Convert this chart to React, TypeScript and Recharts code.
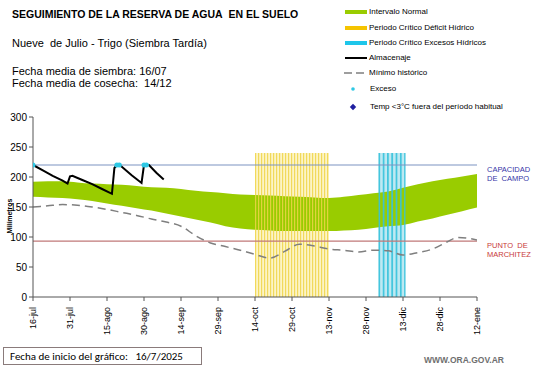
import React from "react";
import {
  ComposedChart,
  Area,
  Line,
  XAxis,
  YAxis,
  ReferenceLine,
} from "recharts";

// días desde el 16-jul
const tickDays = [0, 15, 30, 45, 60, 75, 90, 105, 120, 135, 150, 165, 180];
const tickLabels = [
  "16-jul", "31-jul", "15-ago", "30-ago", "14-sep", "29-sep", "14-oct",
  "29-oct", "13-nov", "28-nov", "13-dic", "28-dic", "12-ene",
];

// intervalo normal (banda verde)
const normalDays = [0, 6, 12, 18, 24, 30, 36, 42, 48, 54, 60, 66, 72, 78, 84, 90, 96, 102, 108, 114, 120, 126, 132, 138, 144, 150, 156, 162, 168, 174, 180];
const normalHigh = [192, 193, 193, 191, 189, 188, 187, 185, 183, 182, 180, 177, 175, 173, 171, 170, 169, 168, 167, 166, 165, 167, 170, 173, 176, 182, 188, 193, 197, 201, 205];
const normalLow = [167, 166, 165, 163, 160, 156, 152, 148, 144, 139, 134, 129, 124, 118, 114, 112, 111, 110, 110, 110, 110, 111, 112, 115, 118, 120, 126, 131, 137, 143, 149];

// mínimo histórico
const minDays = [0, 6, 12, 18, 24, 30, 36, 42, 48, 54, 60, 66, 72, 78, 84, 90, 96, 102, 108, 114, 120, 126, 132, 138, 144, 150, 156, 162, 168, 172, 176, 180];
const minValues = [150, 152, 154, 153, 150, 146, 141, 136, 130, 125, 118, 102, 90, 84, 78, 71, 65, 76, 88, 85, 80, 78, 75, 78, 77, 70, 74, 80, 92, 99, 98, 95];

// almacenaje
const storageDays = [0, 4, 8, 12, 14, 15, 16, 20, 24, 28, 32, 33, 34, 35, 36, 40, 44, 45, 46, 47, 50, 53];
const storageValues = [220, 211, 202, 194, 189, 201, 202, 195, 188, 180, 172, 215, 220, 220, 217, 203, 190, 220, 220, 220, 207, 196];

// exceso
const excessDays = [0, 34, 35, 45, 46];
const excessValues = [220, 220, 220, 220, 220];

// periodos críticos
const deficitDays = [90, 120];
const excessPeriodDays = [140, 151];
const bandTop = 240;

const fieldCapacity = 220;
const wiltingPoint = 93;

const normalData = normalDays.map((d, i) => ({ day: d, band: [normalLow[i], normalHigh[i]] }));
const minData = minDays.map((d, i) => ({ day: d, v: minValues[i] }));
const storageData = storageDays.map((d, i) => ({ day: d, v: storageValues[i] }));
const excessData = excessDays.map((d, i) => ({ day: d, v: excessValues[i] }));
const deficitData = deficitDays.map((d) => ({ day: d, v: bandTop }));
const excessBandData = excessPeriodDays.map((d) => ({ day: d, v: bandTop }));

const XTick = (props: any) => {
  const { x, y, payload } = props;
  const label = tickLabels[tickDays.indexOf(payload.value)];
  return (
    <text
      x={x}
      y={y + 4}
      dy={3}
      transform={`rotate(-90 ${x} ${y + 4})`}
      textAnchor="end"
      fontSize={9}
      fill="#000"
      fontFamily="Liberation Sans, Arial, sans-serif"
    >
      {label}
    </text>
  );
};

const abs = (left: number, top: number, extra: React.CSSProperties = {}): React.CSSProperties => ({
  position: "absolute",
  left,
  top,
  whiteSpace: "nowrap",
  ...extra,
});

const legendText: React.CSSProperties = { fontSize: 8, color: "#000", lineHeight: "10px" };

export default function App() {
  return (
    <div
      style={{
        position: "absolute",
        left: 0,
        top: 0,
        width: 541,
        height: 368,
        background: "#fff",
        fontFamily: "Liberation Sans, Arial, sans-serif",
        overflow: "hidden",
      }}
    >
      <svg width={0} height={0} style={{ position: "absolute" }}>
        <defs>
          <pattern id="yellowStripes" width={3} height={10} patternUnits="userSpaceOnUse">
            <rect x={0} y={0} width={1.2} height={10} fill="#efd548" fillOpacity={0.85} />
          </pattern>
          <pattern id="cyanStripes" width={4.3} height={10} patternUnits="userSpaceOnUse">
            <rect x={0} y={0} width={1.8} height={10} fill="#36c2dc" fillOpacity={0.9} />
          </pattern>
        </defs>
      </svg>

      <ComposedChart
        width={541}
        height={368}
        margin={{ top: 117, right: 64, bottom: 31, left: 8 }}
        style={{ position: "absolute", left: 0, top: 0 }}
      >
        <XAxis
          type="number"
          dataKey="day"
          domain={[0, 180]}
          ticks={tickDays}
          interval={0}
          tick={<XTick />}
          height={40}
          stroke="#555"
          tickSize={4}
          allowDataOverflow
        />
        <YAxis
          type="number"
          domain={[0, 300]}
          ticks={[0, 50, 100, 150, 200, 250, 300]}
          width={25}
          stroke="#555"
          tickSize={4}
          tick={{ fill: "#000", fontSize: 10 }}
        />
        {/* fondo claro de los periodos críticos */}
        <Area data={deficitData} dataKey="v" type="linear" fill="#fcf4c6" fillOpacity={1} stroke="none" isAnimationActive={false} />
        <Area data={excessBandData} dataKey="v" type="linear" fill="#bfe9f2" fillOpacity={1} stroke="none" isAnimationActive={false} />
        <Area data={normalData} dataKey="band" type="monotone" fill="#99cc00" fillOpacity={1} stroke="none" isAnimationActive={false} />
        <Area data={deficitData} dataKey="v" type="linear" fill="url(#yellowStripes)" fillOpacity={1} stroke="none" isAnimationActive={false} />
        <Area data={excessBandData} dataKey="v" type="linear" fill="url(#cyanStripes)" fillOpacity={1} stroke="none" isAnimationActive={false} />
        <ReferenceLine y={fieldCapacity} stroke="#7d93c2" strokeWidth={1.2} />
        <ReferenceLine y={wiltingPoint} stroke="#c07878" strokeWidth={1.2} />
        <Line data={minData} dataKey="v" type="monotone" stroke="#7f7f7f" strokeWidth={1.5} strokeDasharray="8 5" dot={false} isAnimationActive={false} />
        <Line data={storageData} dataKey="v" type="linear" stroke="#000" strokeWidth={2} dot={false} isAnimationActive={false} />
        <Line data={excessData} dataKey="v" stroke="none" dot={{ r: 2.5, fill: "#2ec8e4", stroke: "none" }} activeDot={false} isAnimationActive={false} />
      </ComposedChart>

      {/* títulos */}
      <div style={abs(12, 8, { fontSize: 10.5, fontWeight: "bold" })}>SEGUIMIENTO DE LA RESERVA DE AGUA&nbsp; EN EL SUELO</div>
      <div style={abs(12, 37, { fontSize: 11 })}>Nueve&nbsp; de Julio - Trigo (Siembra Tardía)</div>
      <div style={abs(12, 65, { fontSize: 11, lineHeight: "12px" })}>
        Fecha media de siembra: 16/07
        <br />
        Fecha media de cosecha:&nbsp; 14/12
      </div>

      {/* leyenda */}
      <div style={abs(345, 10, { width: 22, height: 4, background: "#99cc00" })} />
      <div style={abs(369, 7, legendText)}>Intervalo Normal</div>
      <div style={abs(345, 26, { width: 22, height: 4, background: "#f5c400" })} />
      <div style={abs(369, 23, legendText)}>Periodo Crítico Déficit Hídrico</div>
      <div style={abs(345, 41, { width: 22, height: 4, background: "#1ec6ea" })} />
      <div style={abs(369, 38, legendText)}>Periodo Crítico Excesos Hídricos</div>
      <div style={abs(345, 57, { width: 22, height: 2, background: "#000" })} />
      <div style={abs(369, 53, legendText)}>Almacenaje</div>
      <svg style={abs(344, 70)} width={24} height={6}>
        <line x1={0} y1={3} x2={24} y2={3} stroke="#7f7f7f" strokeWidth={1.5} strokeDasharray="8 4" />
      </svg>
      <div style={abs(369, 68, legendText)}>Mínimo histórico</div>
      <svg style={abs(350, 86)} width={6} height={6}>
        <circle cx={3} cy={3} r={1.8} fill="#2ec8e4" />
      </svg>
      <div style={abs(370, 84, legendText)}>Exceso</div>
      <svg style={abs(349, 103)} width={8} height={8}>
        <path d="M4 0.8 L7.2 4 L4 7.2 L0.8 4 Z" fill="#1f1fa0" />
      </svg>
      <div style={abs(370, 102, legendText)}>Temp &lt;3°C fuera del período habitual</div>

      {/* etiquetas de referencia */}
      <div style={abs(487, 165, { fontSize: 7.5, color: "#3535a8", lineHeight: "9px" })}>
        CAPACIDAD
        <br />
        DE&nbsp; CAMPO
      </div>
      <div style={abs(487, 241, { fontSize: 7.5, color: "#c83a3a", lineHeight: "9px" })}>
        PUNTO&nbsp; DE
        <br />
        MARCHITEZ
      </div>
      <div
        style={abs(3, 216, {
          fontSize: 7,
          fontWeight: "bold",
          transform: "translate(0, -50%) rotate(-90deg)",
          transformOrigin: "center",
          width: 14,
          textAlign: "center",
          lineHeight: "14px",
        })}
      >
        <span style={{ display: "inline-block", transform: "translateX(-50%)", marginLeft: 7 }}>Milímetros</span>
      </div>

      {/* pie */}
      <div
        style={abs(3, 347, {
          width: 199,
          height: 18,
          border: "1px solid #8a7b7b",
          fontFamily: "Carlito, Lato, sans-serif",
          fontSize: 11,
          lineHeight: "18px",
          paddingLeft: 6,
          boxSizing: "border-box",
        })}
      >
        Fecha de inicio del gráfico:&nbsp;&nbsp; 16/7/2025
      </div>
      <div style={abs(424, 355, { fontSize: 8.5, color: "#6f6f6f", fontWeight: "bold" })}>WWW.ORA.GOV.AR</div>
    </div>
  );
}
